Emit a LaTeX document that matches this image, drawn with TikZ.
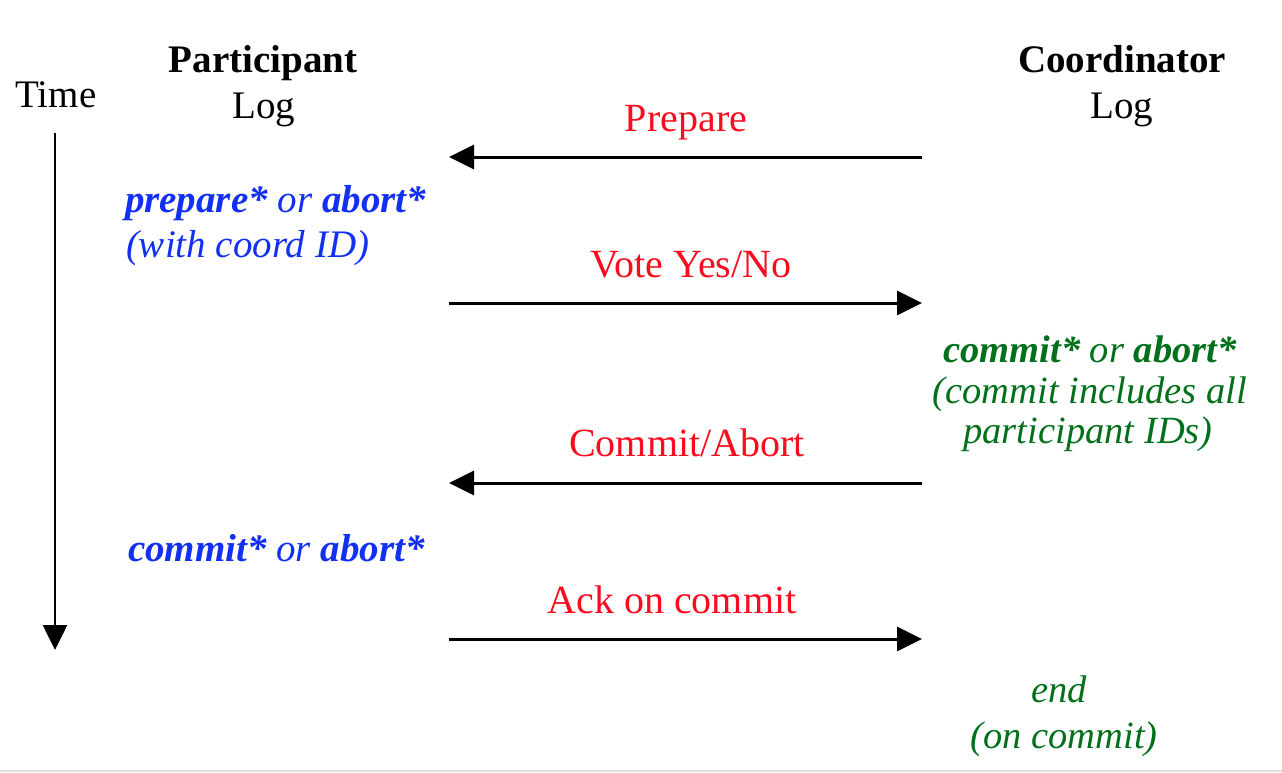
\documentclass[tikz,border=0pt]{standalone}
\usepackage{fontspec}
\setmainfont{Liberation Serif}
\usetikzlibrary{arrows.meta}
\definecolor{msgred}{RGB}{250,12,30}
\definecolor{partblue}{RGB}{18,48,242}
\definecolor{coordgreen}{RGB}{0,112,26}
\definecolor{bandgray}{RGB}{222,222,222}
\tikzset{
  txt/.style={inner sep=0pt, outer sep=0pt, anchor=base, font=\fontsize{39}{46}\selectfont},
  head/.style={txt, text=black},
  msglabel/.style={txt, text=msgred, font=\fontsize{40}{46}\selectfont},
  plog/.style={txt, text=partblue, anchor=base west, font=\fontsize{39}{46}\selectfont\itshape},
  clog/.style={txt, text=coordgreen, font=\fontsize{38.5}{46}\selectfont\itshape},
  msg/.style={line width=3pt, -{Triangle[length=25pt,width=24pt]}},
  timearrow/.style={line width=2.6pt, -{Triangle[length=25pt,width=24pt]}}
}
\begin{document}
\begin{tikzpicture}[x=1pt,y=-1pt]
\useasboundingbox (0,0) rectangle (1282,772);
\fill[bandgray] (0,769.5) rectangle (1282,772);
% headings
\node[head] (time) at (56,107) {Time};
\node[head] (part) at (263,72) {\bfseries Participant};
\node[head] (plogh) at (264,118) {Log};
\node[head] (coord) at (1122,72) {\bfseries Coordinator};
\node[head] (clogh) at (1122,118) {Log};
% time axis
\coordinate (tstart) at (55,133);
\coordinate (tend) at (55,650);
\draw[timearrow] (tstart) -- (tend);
% message endpoints
\coordinate (pA) at (449,157);
\coordinate (cA) at (922,157);
\coordinate (pB) at (449,303);
\coordinate (cB) at (922,303);
\coordinate (pC) at (449,483);
\coordinate (cC) at (922,483);
\coordinate (pD) at (449,639);
\coordinate (cD) at (922,639);
\draw[msg] (cA) -- (pA);
\draw[msg] (pB) -- (cB);
\draw[msg] (cC) -- (pC);
\draw[msg] (pD) -- (cD);
% message labels
\node[msglabel] (lprep) at (686,131) {Prepare};
\node[msglabel] (lvote) at (691,277) {Vote Yes/No};
\node[msglabel] (lcomm) at (687,456) {Commit/Abort};
\node[msglabel] (lack) at (672,613) {Ack on commit};
% participant log records
\node[plog] (p1a) at (125,212) {\bfseries prepare* \mdseries or \bfseries abort*};
\node[plog] (p1b) at (126,257) {(with coord ID)};
\node[plog] (p2) at (128,561) {\bfseries commit* \mdseries or \bfseries abort*};
% coordinator log records
\node[clog] (c1a) at (1090,362) {\bfseries commit* \mdseries or \bfseries abort*};
\node[clog] (c1b) at (1090,403) {(commit includes all};
\node[clog] (c1c) at (1088,443) {participant IDs)};
\node[clog] (c2a) at (1059,702) {end};
\node[clog] (c2b) at (1064,748) {(on commit)};
\end{tikzpicture}
\end{document}
